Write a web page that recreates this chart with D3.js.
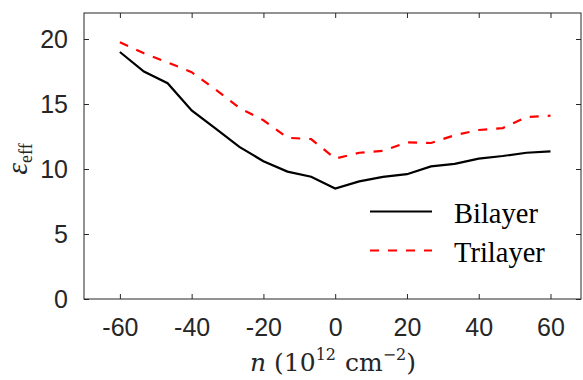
<!DOCTYPE html>
<html>
<head>
<meta charset="utf-8">
<script src="https://cdn.jsdelivr.net/npm/d3@7"></script>
<style>
  body { margin: 0; background: #fff; }
  svg { display: block; }
</style>
</head>
<body>
<div id="vis"></div>
<script>
  ///////data/////////////////////////////////////////////////
  var nVals    = [-60, -53.3, -46.7, -40, -33.3, -26.7, -20, -13.3, -6.7, 0, 6.7, 13.3, 20, 26.7, 33.3, 40, 46.7, 53.3, 60]
  var bilayer  = [19.0, 17.5, 16.6, 14.5, 13.1, 11.7, 10.6, 9.8, 9.4, 8.5, 9.05, 9.4, 9.6, 10.2, 10.4, 10.8, 11.0, 11.25, 11.35]
  var trilayer = [19.75, 18.9, 18.2, 17.45, 16.1, 14.7, 13.75, 12.4, 12.3, 10.8, 11.25, 11.4, 12.05, 12.0, 12.6, 13.0, 13.15, 14.0, 14.1]
  var xTicks = [-60, -40, -20, 0, 20, 40, 60]
  var yTicks = [0, 5, 10, 15, 20]
  var seriesNames = ["Bilayer", "Trilayer"]

  ///////setting up/////////////////////////////////////////////////
  var width = 583
  var height = 380
  var axisColor = "#262626"

  const svg = d3.select("#vis")
    .append("svg")
    .attr("width", width)
    .attr("height", height)

  const x = d3.scaleLinear().domain([-70, 68.5]).range([84, 581])
  const y = d3.scaleLinear().domain([0, 22]).range([299, 13])

  // plain hyphen for negatives, like the original
  const fmt = d => String(d)

  // axes: ticks inside, box on all four sides
  const tickLen = 5
  svg.append("g")
    .attr("transform", `translate(0,${y(0)})`)
    .call(d3.axisBottom(x).tickValues(xTicks).tickSizeInner(-tickLen).tickSizeOuter(0).tickPadding(19).tickFormat(fmt))
  svg.append("g")
    .attr("transform", `translate(0,${y(22)})`)
    .call(d3.axisTop(x).tickValues(xTicks).tickSizeInner(-tickLen).tickSizeOuter(0).tickFormat(""))
  svg.append("g")
    .attr("transform", `translate(${x(-70)},0)`)
    .call(d3.axisLeft(y).tickValues(yTicks).tickSizeInner(-tickLen).tickSizeOuter(0).tickPadding(16).tickFormat(fmt))
  svg.append("g")
    .attr("transform", `translate(${x(68.5)},0)`)
    .call(d3.axisRight(y).tickValues(yTicks).tickSizeInner(-tickLen).tickSizeOuter(0).tickFormat(""))

  svg.selectAll(".domain").remove()
  svg.selectAll(".tick line").attr("stroke", axisColor)
  svg.selectAll(".tick text")
    .attr("fill", axisColor)
    .attr("font-family", "'Liberation Sans', Arial, sans-serif")
    .attr("font-size", 25)

  // frame
  svg.append("rect")
    .attr("x", x(-70)).attr("y", y(22))
    .attr("width", x(68.5) - x(-70)).attr("height", y(0) - y(22))
    .attr("fill", "none")
    .attr("stroke", axisColor)
    .attr("stroke-width", 1)

  ////////lines/////////////////////////////////////////////
  const line = d3.line().x(d => x(d[0])).y(d => y(d[1]))

  svg.append("path")
    .datum(nVals.map((n, i) => [n, bilayer[i]]))
    .attr("d", line)
    .attr("fill", "none")
    .attr("stroke", "#000")
    .attr("stroke-width", 2.2)

  svg.append("path")
    .datum(nVals.map((n, i) => [n, trilayer[i]]))
    .attr("d", line)
    .attr("fill", "none")
    .attr("stroke", "#ff0000")
    .attr("stroke-width", 2.2)
    .attr("stroke-dasharray", "9,9")

  ////////legend////////////////////////////////////////////
  const legend = svg.append("g")
  const legendRows = [
    { name: seriesNames[0], color: "#000", dash: null, y: 211.5 },
    { name: seriesNames[1], color: "#ff0000", dash: "9,9", y: 250.5 }
  ]
  legendRows.forEach(function (r) {
    legend.append("line")
      .attr("x1", 370).attr("x2", 432)
      .attr("y1", r.y).attr("y2", r.y)
      .attr("stroke", r.color)
      .attr("stroke-width", 2.2)
      .attr("stroke-dasharray", r.dash)
    legend.append("text")
      .attr("x", 454).attr("y", r.y + 11)
      .attr("font-family", "'Liberation Serif', 'Times New Roman', serif")
      .attr("font-size", 28.5)
      .attr("fill", "#000")
      .text(r.name)
  })

  ////////axis labels///////////////////////////////////////
  const xl = svg.append("text")
    .attr("x", 333)
    .attr("y", 371)
    .attr("text-anchor", "middle")
    .attr("font-family", "'DejaVu Serif', 'Liberation Serif', serif")
    .attr("font-size", 25)
    .attr("fill", axisColor)
  xl.append("tspan").attr("font-style", "italic").text("n")
  xl.append("tspan").attr("dx", 8).text("(10")
  xl.append("tspan").attr("font-size", 16).attr("dy", -11).text("12")
  xl.append("tspan").attr("dx", 9).attr("dy", 11).text("cm")
  xl.append("tspan").attr("font-size", 16).attr("dy", -11).text("\u22122")
  xl.append("tspan").attr("dy", 11).text(")")

  const yl = svg.append("text")
    .attr("transform", `translate(27,159) rotate(-90)`)
    .attr("text-anchor", "middle")
    .attr("font-family", "'Liberation Serif', 'DejaVu Serif', serif")
    .attr("font-size", 30)
    .attr("fill", axisColor)
  yl.append("tspan").attr("font-style", "italic").text("\u03b5")
  yl.append("tspan").attr("font-size", 18).attr("dy", 5).text("eff")
</script>
</body>
</html>
